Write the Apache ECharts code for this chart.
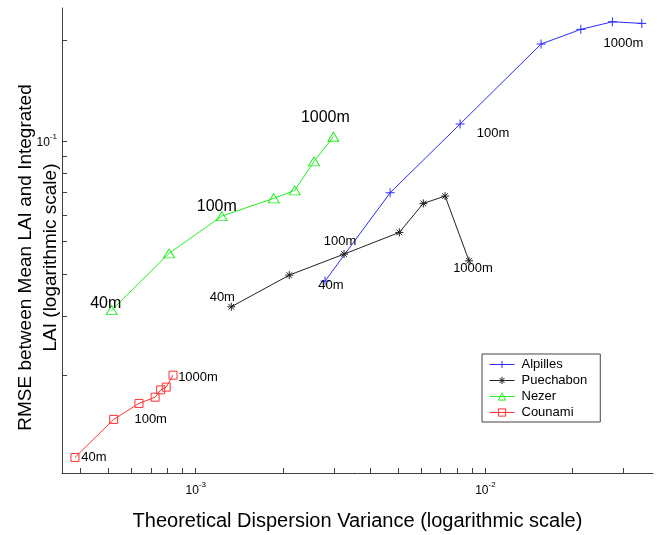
<!DOCTYPE html>
<html><head><meta charset="utf-8">
<script src="https://cdn.jsdelivr.net/npm/echarts@6/dist/echarts.min.js"></script>
<style>html,body{margin:0;padding:0;background:#fff}#c{width:666px;height:535px}</style>
</head><body><div id="c"></div>
<script>
// ---- data ----
const seriesNames = ['Alpilles', 'Puechabon', 'Nezer', 'Counami'];

const alpillesX = [0.002795, 0.00469, 0.00818, 0.01557, 0.02135, 0.02745, 0.03467];
const alpillesY = [0.03813, 0.06996, 0.1122, 0.1944, 0.2150, 0.2265, 0.2240];
const alpillesLabels = ['40m', '', '100m', '', '', '1000m', ''];

const puechabonX = [0.001327, 0.002104, 0.003252, 0.005047, 0.006107, 0.00726, 0.00878];
const puechabonY = [0.03196, 0.03973, 0.04590, 0.05327, 0.06503, 0.06838, 0.04383];
const puechabonLabels = ['40m', '', '100m', '', '', '', '1000m'];

const nezerX = [0.000513, 0.000809, 0.00123, 0.001859, 0.002197, 0.002562, 0.002987];
const nezerY = [0.03124, 0.04612, 0.05958, 0.06731, 0.07111, 0.08679, 0.1028];
const nezerLabels = ['40m', '', '100m', '', '', '', '1000m'];

const counamiX = [0.000383, 0.000521, 0.000637, 0.000724, 0.000757, 0.000791, 0.000835];
const counamiY = [0.01135, 0.01474, 0.01645, 0.01717, 0.01806, 0.01840, 0.01998];
const counamiLabels = ['40m', '100m', '', '', '', '', '1000m'];

const xTickValues = [0.0004, 0.0005, 0.0006, 0.0007, 0.0008, 0.0009, 0.001, 0.002, 0.003, 0.004, 0.005, 0.006, 0.007, 0.008, 0.009, 0.01, 0.02, 0.03];
const xLabelValues = [0.001, 0.01];
const yTickValues = [0.02, 0.03, 0.04, 0.05, 0.06, 0.07, 0.08, 0.09, 0.1, 0.2];
const yLabelValues = [0.1];

// ---- styling / layout ----
const colors = ['#2b2bff', '#222222', '#22ee22', '#ff3030'];
const FONT = '"Liberation Sans", Arial, sans-serif';
const labelOffsets = {
  Alpilles: {0: [6, 4], 2: [33, 9], 5: [11, 22]},
  Puechabon: {0: [-9, -9], 2: [-4, -13], 6: [4, 8]},
  Nezer: {0: [-6, -7], 2: [-5, -10], 6: [-8, -19]},
  Counami: {0: [19, 0], 1: [37, 0], 6: [25, 2]}
};
const labelFont = {Alpilles: 13, Puechabon: 13, Nezer: 16, Counami: 13};
const symbols = {
  Alpilles: 'path://M5,0L5,10M0,5L10,5',
  Puechabon: 'path://M5,0L5,10M0,5L10,5M1.5,1.5L8.5,8.5M1.5,8.5L8.5,1.5',
  Nezer: 'triangle',
  Counami: 'rect'
};
const symbolSizes = {Alpilles: 9, Puechabon: 8, Nezer: [11, 9], Counami: 8};

function buildData(name, xs, ys, labels) {
  return xs.map((x, i) => {
    const d = {value: [x, ys[i]]};
    if (labels[i]) {
      d.label = {
        show: true, formatter: labels[i], position: 'inside',
        offset: labelOffsets[name][i], fontSize: labelFont[name],
        color: '#000', fontFamily: FONT
      };
    }
    return d;
  });
}

const raw = {
  Alpilles: [alpillesX, alpillesY, alpillesLabels],
  Puechabon: [puechabonX, puechabonY, puechabonLabels],
  Nezer: [nezerX, nezerY, nezerLabels],
  Counami: [counamiX, counamiY, counamiLabels]
};

const supFmt = v => '{b|10}{s|' + Math.round(Math.log10(v)) + '}';
const supRich = {
  b: {fontSize: 12, fontFamily: FONT, color: '#000', lineHeight: 16, verticalAlign: 'bottom'},
  s: {fontSize: 8, fontFamily: FONT, color: '#000', lineHeight: 16, verticalAlign: 'top', padding: [0, 0, 8, 0]}
};

const option = {
  animation: false,
  backgroundColor: '#fff',
  grid: {left: 62, right: 13, top: 8, bottom: 62, containLabel: false, outerBoundsMode: 'none'},
  xAxis: {
    type: 'log', logBase: 10, min: 0.0003455, max: 0.0379,
    name: 'Theoretical Dispersion Variance (logarithmic scale)',
    nameLocation: 'middle', nameGap: 38, nameMoveOverlap: false,
    nameTextStyle: {fontSize: 20, fontFamily: FONT, color: '#000'},
    axisLine: {lineStyle: {color: '#404040', width: 1}},
    axisTick: {inside: true, length: 5, customValues: xTickValues, lineStyle: {color: '#404040'}},
    axisLabel: {customValues: xLabelValues, formatter: supFmt, rich: supRich, margin: 8},
    splitLine: {show: false}, minorTick: {show: false}
  },
  yAxis: {
    type: 'log', logBase: 10, min: 0.0102, max: 0.249,
    name: 'RMSE between Mean LAI and Integrated\nLAI (logarithmic scale)',
    nameLocation: 'middle', nameGap: -1, nameMoveOverlap: false,
    nameTextStyle: {fontSize: 19, fontFamily: FONT, color: '#000', lineHeight: 25, padding: [0, 34, 0, 0]},
    axisLine: {show: true, lineStyle: {color: '#404040', width: 1}},
    axisTick: {show: true, inside: true, length: 5, customValues: yTickValues, lineStyle: {color: '#404040'}},
    axisLabel: {customValues: yLabelValues, formatter: supFmt, rich: supRich, margin: 5},
    splitLine: {show: false}
  },
  legend: {
    orient: 'vertical', left: 482, top: 354,
    data: seriesNames,
    itemWidth: 25, itemHeight: 9, itemGap: 3,
    padding: [4, 13, 3, 7],
    borderColor: '#444', borderWidth: 1, backgroundColor: '#fff',
    itemStyle: {color: 'rgba(0,0,0,0)', borderWidth: 1},
    lineStyle: {width: 1},
    textStyle: {fontSize: 13, fontFamily: FONT, color: '#000', padding: [0, 0, 0, 2]}
  },
  series: seriesNames.map((name, k) => ({
    name, type: 'line',
    data: buildData(name, ...raw[name]),
    symbol: symbols[name], symbolSize: symbolSizes[name],
    showAllSymbol: true,
    lineStyle: {color: colors[k], width: 1},
    itemStyle: {color: 'rgba(0,0,0,0)', borderColor: colors[k], borderWidth: 1},
    emphasis: {disabled: true},
    z: 2 + k
  }))
};

const chart = echarts.init(document.getElementById('c'), null, {renderer: 'canvas'});
chart.setOption(option);
</script>
</body></html>
